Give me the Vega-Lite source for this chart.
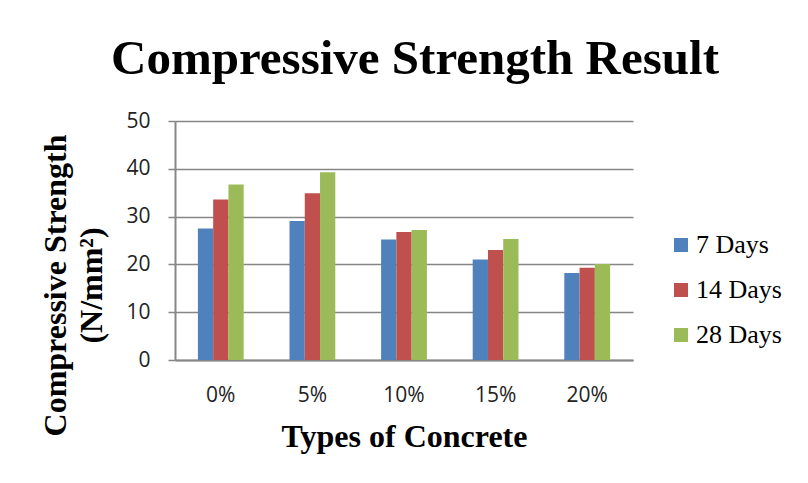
{
  "$schema": "https://vega.github.io/schema/vega-lite/v6.json",
  "width": 458,
  "height": 239,
  "autosize": {"type": "none"},
  "padding": {"left": 175, "top": 121, "right": 175, "bottom": 123},
  "background": "white",
  "title": {
    "text": "Compressive Strength Result",
    "font": "Liberation Serif",
    "fontSize": 49,
    "fontWeight": "bold",
    "color": "black",
    "anchor": "middle",
    "dx": 11,
    "offset": 26
  },
  "data": {
    "values": [
      {"type": "0%", "age": "7 Days", "strength": 27.5},
      {"type": "0%", "age": "14 Days", "strength": 33.6},
      {"type": "0%", "age": "28 Days", "strength": 36.7},
      {"type": "5%", "age": "7 Days", "strength": 29.1},
      {"type": "5%", "age": "14 Days", "strength": 34.9},
      {"type": "5%", "age": "28 Days", "strength": 39.3},
      {"type": "10%", "age": "7 Days", "strength": 25.2},
      {"type": "10%", "age": "14 Days", "strength": 26.8},
      {"type": "10%", "age": "28 Days", "strength": 27.2},
      {"type": "15%", "age": "7 Days", "strength": 21.0},
      {"type": "15%", "age": "14 Days", "strength": 23.0},
      {"type": "15%", "age": "28 Days", "strength": 25.3},
      {"type": "20%", "age": "7 Days", "strength": 18.2},
      {"type": "20%", "age": "14 Days", "strength": 19.3},
      {"type": "20%", "age": "28 Days", "strength": 20.1}
    ]
  },
  "mark": {"type": "bar"},
  "encoding": {
    "x": {
      "field": "type",
      "type": "nominal",
      "sort": ["0%", "5%", "10%", "15%", "20%"],
      "scale": {"paddingInner": 0.5, "paddingOuter": 0.25},
      "axis": {
        "title": "Types of Concrete",
        "titleFont": "Liberation Serif",
        "titleFontSize": 32,
        "titleFontWeight": "bold",
        "titleColor": "black",
        "titlePadding": 16,
        "labelAngle": 0,
        "labelFont": "Open Sans",
        "labelFontSize": 21,
        "labelColor": "#222222",
        "labelPadding": 24,
        "ticks": false,
        "domainColor": "#868686",
        "domainWidth": 2,
        "grid": false
      }
    },
    "xOffset": {
      "field": "age",
      "sort": ["7 Days", "14 Days", "28 Days"]
    },
    "y": {
      "field": "strength",
      "type": "quantitative",
      "scale": {"domain": [0, 50], "nice": false},
      "axis": {
        "values": [0, 10, 20, 30, 40, 50],
        "title": ["Compressive Strength", "(N/mm²)"],
        "titleFont": "Liberation Serif",
        "titleFontSize": 32,
        "titleFontWeight": "bold",
        "titleColor": "black",
        "titleLineHeight": 36,
        "titleAngle": -90,
        "titleAlign": "center",
        "titleBaseline": "top",
        "titleX": -135,
        "titleY": 164,
        "labelFont": "Open Sans",
        "labelFontSize": 21,
        "labelColor": "#222222",
        "labelPadding": 18,
        "tickColor": "#868686",
        "tickSize": 7,
        "tickWidth": 1.5,
        "domainColor": "#868686",
        "domainWidth": 2,
        "grid": true,
        "gridColor": "#868686",
        "gridWidth": 1.5
      }
    },
    "color": {
      "field": "age",
      "type": "nominal",
      "sort": ["7 Days", "14 Days", "28 Days"],
      "scale": {"range": ["#4F81BD", "#C0504D", "#9BBB59"]},
      "legend": {
        "title": null,
        "orient": "none",
        "legendX": 493,
        "legendY": 111,
        "symbolType": "square",
        "symbolSize": 196,
        "symbolStrokeWidth": 0,
        "labelFont": "Liberation Serif",
        "labelFontSize": 26,
        "labelColor": "black",
        "rowPadding": 19,
        "labelOffset": 2
      }
    }
  },
  "config": {
    "view": {"stroke": null}
  }
}
